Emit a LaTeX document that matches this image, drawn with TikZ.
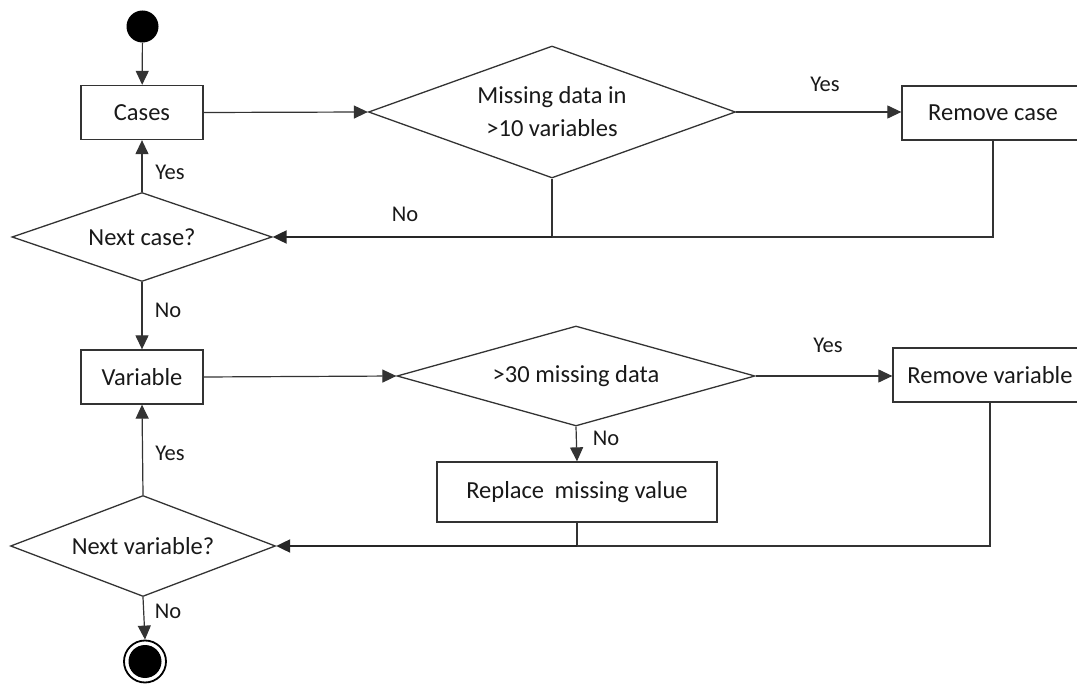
\documentclass[tikz,border=0pt]{standalone}
\usepackage{fontspec}
\setmainfont{Carlito}
\usetikzlibrary{shapes.geometric,arrows.meta}

\tikzset{
  flow/.style={draw=black!80, line width=1.2pt},
  heavy/.style={draw=black!85, line width=2pt},
  arr/.style={flow, -{Triangle[length=14pt,width=13pt]}},
  arrheavy/.style={heavy, -{Triangle[length=14pt,width=13pt]}},
  stepbox/.style={draw=black!80, line width=1.3pt, rectangle, inner sep=0pt,
    font=\fontsize{24.5}{29}\selectfont, text=black!90},
  decision/.style={draw=black!80, line width=1.3pt, diamond, inner sep=0pt,
    font=\fontsize{24.5}{33}\selectfont, text=black!90, align=center},
  lbl/.style={font=\fontsize{22.5}{26}\selectfont, text=black!90, inner sep=0pt},
}

\begin{document}
\begin{tikzpicture}[x=1pt,y=-1pt]
  \useasboundingbox (0,0) rectangle (1077,684);

  % start and end markers
  \node[circle, fill=black, minimum size=32pt, inner sep=0pt] (start) at (142.5,26.5) {};
  \node[circle, draw=black, line width=1.8pt, minimum size=42pt, inner sep=0pt] (stop) at (145,661.5) {};
  \node[circle, fill=black, minimum size=33pt, inner sep=0pt] (stopin) at (145,661.5) {};

  % case loop
  \node[stepbox, minimum width=122pt, minimum height=54pt] (cases) at (142,112.5) {Cases};
  \node[decision, aspect=2.78, minimum width=367pt, minimum height=132pt] (misscase) at (552,112)
       {\raisebox{-3pt}{Missing data in}\\\raisebox{-3pt}{>10 variables}};
  \node[stepbox, minimum width=182pt, minimum height=54pt] (rmcase) at (993,113) {Remove case};
  \node[decision, aspect=2.92, minimum width=260pt, minimum height=89pt] (nextcase) at (142,237) {Next case?};

  % variable loop
  \node[stepbox, minimum width=122pt, minimum height=54pt] (variable) at (142,377) {Variable};
  \node[decision, aspect=3.58, minimum width=358pt, minimum height=100pt] (missvar) at (576,376) {>30 missing data};
  \node[stepbox, minimum width=194pt, minimum height=54pt] (rmvar) at (990,375) {Remove variable};
  \node[stepbox, minimum width=280pt, minimum height=60pt] (replace) at (577,492) {Replace\hspace{0.2em} missing value};
  \node[decision, aspect=2.62, minimum width=265pt, minimum height=101pt] (nextvar) at (143,546) {Next variable?};

  % merge points of the loop-back lines
  \coordinate (j1) at (misscase.south |- nextcase.east);
  \coordinate (j2) at (rmcase.south |- nextcase.east);
  \coordinate (j3) at (replace.south |- nextvar.east);
  \coordinate (j4) at (rmvar.south |- nextvar.east);

  % connectors
  \draw[arr] (start) -- (cases);
  \draw[arr] (cases.east) -- (misscase.west);
  \draw[arr] (misscase.east) -- (misscase.east -| rmcase.west);
  \draw[flow] (misscase.south) -- (j1);
  \draw[flow] (rmcase.south) -- (j2) -- (j1);
  \draw[arrheavy] (j1) -- (nextcase.east);
  \draw[arr] (nextcase.north) -- (cases.south);
  \draw[arr] (nextcase.south) -- (variable.north);

  \draw[arr] (variable.east) -- (missvar.west);
  \draw[arr] (missvar.east) -- (missvar.east -| rmvar.west);
  \draw[arr] (missvar.south) -- (replace.north);
  \draw[flow] (replace.south) -- (j3);
  \draw[flow] (rmvar.south) -- (j4) -- (j3);
  \draw[arrheavy] (j3) -- (nextvar.east);
  \draw[arr] (nextvar.north) -- (variable.south);
  \draw[arr] (nextvar.south) -- (stop.north);

  % branch labels
  \node[lbl] (y1) at (825,84) {Yes};
  \node[lbl] (n1) at (405,214) {No};
  \node[lbl] (y2) at (170,172) {Yes};
  \node[lbl] (n2) at (168,310) {No};
  \node[lbl] (y3) at (828,345) {Yes};
  \node[lbl] (n3) at (606,438) {No};
  \node[lbl] (y4) at (170,453) {Yes};
  \node[lbl] (n4) at (168,611) {No};
\end{tikzpicture}
\end{document}
